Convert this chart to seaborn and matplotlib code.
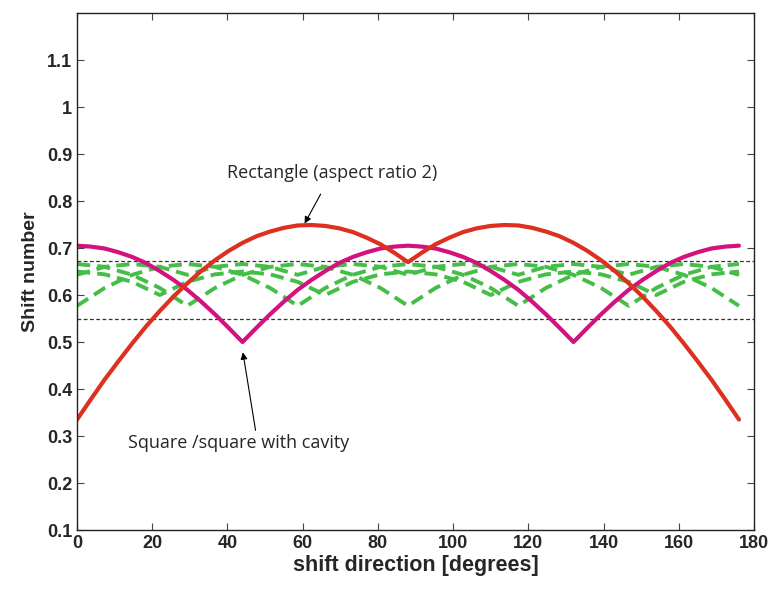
import numpy as np
import pandas as pd
import seaborn as sns
import matplotlib.pyplot as plt

# x axis: sampled every 3.75 "real" degrees, plotted 0..176
x_fine = [0, 3.67, 7.33, 11, 14.67, 18.33, 22, 25.67, 29.33, 33, 36.67, 40.33, 44,
          47.67, 51.33, 55, 58.67, 62.33, 66, 69.67, 73.33, 77, 80.67, 84.33, 88,
          91.67, 95.33, 99, 102.67, 106.33, 110, 113.67, 117.33, 121, 124.67, 128.33, 132,
          135.67, 139.33, 143, 146.67, 150.33, 154, 157.67, 161.33, 165, 168.67, 172.33, 176]

# square / square with cavity
square = [0.705, 0.703, 0.699, 0.691, 0.681, 0.668, 0.651, 0.632, 0.611, 0.586, 0.559, 0.530, 0.500,
          0.530, 0.559, 0.586, 0.611, 0.632, 0.651, 0.668, 0.681, 0.691, 0.699, 0.703, 0.705,
          0.703, 0.699, 0.691, 0.681, 0.668, 0.651, 0.632, 0.611, 0.586, 0.559, 0.530, 0.500,
          0.530, 0.559, 0.586, 0.611, 0.632, 0.651, 0.668, 0.681, 0.691, 0.699, 0.703, 0.705]

# rectangle (aspect ratio 2)
rectangle = [0.335, 0.378, 0.420, 0.459, 0.497, 0.533, 0.566, 0.597, 0.625, 0.651, 0.674, 0.694, 0.711,
             0.725, 0.735, 0.743, 0.748, 0.749, 0.747, 0.742, 0.734, 0.722, 0.708, 0.690, 0.670,
             0.690, 0.708, 0.722, 0.734, 0.742, 0.747, 0.749, 0.748, 0.743, 0.735, 0.725, 0.711,
             0.694, 0.674, 0.651, 0.625, 0.597, 0.566, 0.533, 0.497, 0.459, 0.420, 0.378, 0.335]

# other shapes, coarser sampling
x_coarse = [0, 7.33, 14.67, 22, 29.33, 36.67, 44, 51.33, 58.67, 66, 73.33, 80.67, 88,
            95.33, 102.67, 110, 117.33, 124.67, 132, 139.33, 146.67, 154, 161.33, 168.67, 176]
hex_a = [0.577, 0.615, 0.643, 0.660, 0.666, 0.660, 0.643, 0.615,
         0.577, 0.615, 0.643, 0.660, 0.666, 0.660, 0.643, 0.615,
         0.577, 0.615, 0.643, 0.660, 0.666, 0.660, 0.643, 0.615, 0.577]
hex_b = [0.666, 0.660, 0.643, 0.615, 0.577, 0.615, 0.643, 0.660,
         0.666, 0.660, 0.643, 0.615, 0.577, 0.615, 0.643, 0.660,
         0.666, 0.660, 0.643, 0.615, 0.577, 0.615, 0.643, 0.660, 0.666]
octagon = [0.650, 0.644, 0.628, 0.600, 0.628, 0.644,
           0.650, 0.644, 0.628, 0.600, 0.628, 0.644,
           0.650, 0.644, 0.628, 0.600, 0.628, 0.644,
           0.650, 0.644, 0.628, 0.600, 0.628, 0.644, 0.650]
dodecagon = [0.643, 0.660, 0.666, 0.660, 0.643, 0.660, 0.666, 0.660,
             0.643, 0.660, 0.666, 0.660, 0.643, 0.660, 0.666, 0.660,
             0.643, 0.660, 0.666, 0.660, 0.643, 0.660, 0.666, 0.660, 0.643]

band = [0.673, 0.55]

sns.set_theme(style="ticks")
plt.rcParams['font.family'] = ['Liberation Sans', 'DejaVu Sans']

fig = plt.figure(figsize=(7.68, 5.92), dpi=100)
ax = fig.add_axes([0.1003, 0.1047, 0.8815, 0.8733])

green = '#45BE48'
for yy in [hex_a, hex_b, octagon, dodecagon]:
    sns.lineplot(x=x_coarse, y=yy, ax=ax, color=green, lw=2.8,
                 linestyle=(0, (3.4, 1.8)), estimator=None, sort=False)

for b in band:
    ax.axhline(b, color='#333333', lw=0.9, linestyle=(0, (3, 2)))

sns.lineplot(x=x_fine, y=square, ax=ax, color='#D3127F', lw=3.0,
             estimator=None, sort=False)
sns.lineplot(x=x_fine, y=rectangle, ax=ax, color='#DD3020', lw=3.0,
             estimator=None, sort=False)

ann_font = ['Open Sans', 'DejaVu Sans']
ax.annotate('Rectangle (aspect ratio 2)', xy=(60.5, 0.752), xytext=(67.8, 0.859),
            ha='center', va='center', fontsize=13, family=ann_font,
            arrowprops=dict(arrowstyle='-|>', color='black', lw=0.8,
                            shrinkA=7, shrinkB=0, mutation_scale=10))
ax.annotate('Square /square with cavity', xy=(44.1, 0.478), xytext=(42.9, 0.286),
            ha='center', va='center', fontsize=13, family=ann_font,
            arrowprops=dict(arrowstyle='-|>', color='black', lw=0.8,
                            shrinkA=0, shrinkB=0, mutation_scale=10,
                            relpos=(0.58, 1.0)))

ax.set_xlim(0, 180)
ax.set_ylim(0.1, 1.2)
ax.set_xticks(np.arange(0, 181, 20))
ax.set_yticks([0.1, 0.2, 0.3, 0.4, 0.5, 0.6, 0.7, 0.8, 0.9, 1.0, 1.1])
ax.set_yticklabels(['0.1', '0.2', '0.3', '0.4', '0.5', '0.6', '0.7', '0.8', '0.9', '1', '1.1'])
ax.tick_params(direction='in', top=True, right=True, length=5, width=0.8,
               labelsize=13, color='#444444')
for lab in ax.get_xticklabels() + ax.get_yticklabels():
    lab.set_fontweight('bold')
for sp in ax.spines.values():
    sp.set_visible(True)
    sp.set_color('#222222')
    sp.set_linewidth(1.0)

ax.set_xlabel('shift direction [degrees]', fontsize=15.5, fontweight='bold', labelpad=2)
ax.set_ylabel('Shift number', fontsize=14, fontweight='bold', labelpad=6)

fig.savefig('out.png', dpi=100)
